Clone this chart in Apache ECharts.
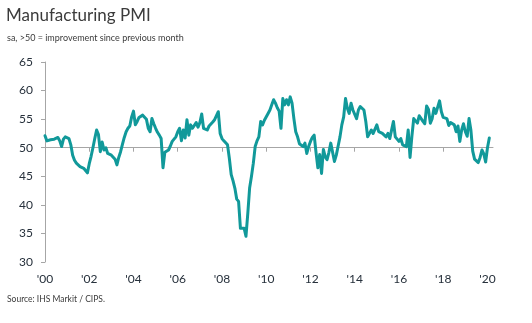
<!DOCTYPE html>
<html>
<head>
<meta charset="utf-8">
<script src="https://cdn.jsdelivr.net/npm/echarts@6/dist/echarts.min.js"></script>
<style>
html,body{margin:0;padding:0;background:#fff;}
#chart{width:532px;height:323px;}
</style>
</head>
<body>
<div id="chart"></div>
<script>
// ---- data (monthly, Jan 2000 - Feb 2020) ----
const pmi2000 = [52.1, 51.2, 51.3, 51.4, 51.2, 51.5, 51.4, 51.8, 51.2, 50.2, 51.5, 51.9];
const pmi2001 = [52.2, 51.6, 50.5, 48.7, 47.8, 47.3, 47.5, 46.7, 46.9, 46.4, 46.1, 45.6];
const pmi2002 = [47.2, 48.5, 50.0, 51.6, 53.1, 52.3, 49.3, 51.0, 49.6, 50.0, 49.0, 48.8];
const pmi2003 = [48.7, 48.9, 48.0, 47.0, 48.3, 49.3, 50.6, 51.8, 52.8, 53.4, 53.8, 55.4];
const pmi2004 = [56.4, 54.0, 54.6, 55.3, 55.5, 55.7, 56.0, 55.0, 53.4, 52.8, 55.1, 54.2];
const pmi2005 = [53.4, 52.7, 52.2, 51.6, 46.5, 49.2, 49.3, 49.6, 50.3, 51.1, 51.5, 51.9];
const pmi2006 = [52.8, 53.4, 51.2, 53.1, 51.7, 54.9, 52.2, 54.0, 53.4, 53.6, 54.4, 53.6];
const pmi2007 = [54.4, 55.9, 53.4, 53.6, 53.1, 53.8, 54.1, 54.5, 54.9, 55.1, 56.3, 52.5];
const pmi2008 = [51.6, 51.2, 51.1, 50.5, 48.1, 45.3, 44.2, 42.9, 41.0, 40.6, 35.9, 35.9];
const pmi2009 = [35.9, 34.5, 38.5, 43.0, 45.0, 47.3, 50.2, 51.2, 51.9, 54.6, 54.0, 54.8];
const pmi2010 = [55.1, 56.0, 56.6, 57.5, 58.4, 57.8, 57.0, 56.4, 53.4, 58.6, 57.5, 58.4];
const pmi2011 = [57.5, 58.9, 57.8, 55.1, 52.8, 51.9, 50.7, 50.5, 50.2, 50.8, 49.0, 50.2];
const pmi2012 = [51.1, 51.8, 52.2, 49.2, 46.5, 48.8, 45.5, 49.7, 48.4, 47.9, 49.2, 50.8];
const pmi2013 = [50.6, 47.6, 48.7, 50.3, 51.9, 54.0, 55.4, 58.6, 56.9, 56.0, 57.8, 56.6];
const pmi2014 = [56.3, 55.1, 56.6, 57.2, 56.9, 56.6, 54.6, 51.9, 52.2, 53.1, 52.5, 52.5];
const pmi2015 = [54.0, 52.8, 52.6, 52.5, 52.8, 51.9, 52.5, 51.6, 51.8, 54.6, 51.9, 52.2];
const pmi2016 = [51.1, 51.6, 50.5, 50.8, 50.2, 53.1, 48.3, 52.0, 55.1, 55.0, 54.3, 55.6];
const pmi2017 = [55.9, 54.6, 54.2, 57.3, 56.7, 54.3, 55.1, 56.9, 56.0, 56.3, 58.2, 56.3];
const pmi2018 = [55.3, 55.2, 55.1, 53.9, 54.4, 54.4, 54.0, 52.8, 53.8, 51.1, 53.1, 54.2];
const pmi2019 = [52.8, 52.0, 55.1, 53.1, 49.4, 48.0, 48.0, 47.4, 48.3, 49.6, 48.9, 47.5];
const pmi2020 = [50.0, 51.7];

const tickLabels = ["'00", "'02", "'04", "'06", "'08", "'10", "'12", "'14", "'16", "'18", "'20"];
const yMin = 30, yMax = 65, yStep = 5, refLevel = 50;
const firstYear = 2000, monthsShown = 244; // Jan 2000 .. Apr 2020 axis extent

const pmi = [].concat(pmi2000, pmi2001, pmi2002, pmi2003, pmi2004, pmi2005, pmi2006,
  pmi2007, pmi2008, pmi2009, pmi2010, pmi2011, pmi2012, pmi2013, pmi2014, pmi2015,
  pmi2016, pmi2017, pmi2018, pmi2019, pmi2020);

const months = [];
for (let k = 0; k < monthsShown; k++) {
  const y = firstYear + Math.floor(k / 12), m = (k % 12) + 1;
  months.push(y + '-' + (m < 10 ? '0' + m : m));
}

// ---- layout ----
const gridTop = 62, gridBottom = 61, chartH = 323;
const plotH = chartH - gridTop - gridBottom;
const refOffset = -(refLevel - yMin) / (yMax - yMin) * plotH;

const textColor = '#26303b';
const axisColor = '#a6a6a6';
const font = 'Lato, "Open Sans", sans-serif';
const isTick = (idx) => idx % 24 === 0;

const chart = echarts.init(document.getElementById('chart'), null, {renderer: 'canvas'});
chart.setOption({
  animation: false,
  backgroundColor: '#ffffff',
  textStyle: {fontFamily: font},
  graphic: [
    {type: 'text', left: 6, top: 7, style: {text: 'Manufacturing PMI', fontSize: 17, fontFamily: font, fill: '#3b3b3b'}},
    {type: 'text', left: 7, top: 34, style: {text: 'sa, >50 = improvement since previous month', fontSize: 9, fontFamily: font, fill: '#3b3b3b'}},
    {type: 'text', left: 7, top: 295, style: {text: 'Source: IHS Markit / CIPS.', fontSize: 8.5, fontFamily: font, fill: '#3b3b3b'}}
  ],
  grid: {left: 45, right: 39, top: gridTop, bottom: gridBottom, containLabel: false},
  xAxis: [
    {
      type: 'category', data: months, boundaryGap: false, position: 'bottom',
      axisLine: {show: false}, axisTick: {show: false}, splitLine: {show: false},
      axisLabel: {
        interval: (idx) => isTick(idx), margin: 11, color: textColor, fontSize: 12, fontFamily: font,
        formatter: (val, idx) => tickLabels[idx / 24] || ''
      }
    },
    {
      type: 'category', data: months, boundaryGap: false, position: 'bottom', offset: refOffset,
      axisLine: {show: true, onZero: false, lineStyle: {color: axisColor, width: 1}},
      axisTick: {show: true, interval: (idx) => isTick(idx), length: 4, lineStyle: {color: axisColor}},
      axisLabel: {show: false}, splitLine: {show: false}
    }
  ],
  yAxis: {
    type: 'value', min: yMin, max: yMax, interval: yStep,
    axisLine: {show: true, lineStyle: {color: axisColor, width: 1}},
    axisTick: {show: true, length: 4, lineStyle: {color: axisColor}},
    axisLabel: {color: textColor, fontSize: 12, margin: 12, fontFamily: font},
    splitLine: {show: false}
  },
  series: [{
    type: 'line', data: pmi, xAxisIndex: 0, showSymbol: false, symbol: 'none',
    lineStyle: {color: '#11999a', width: 3, join: 'round', cap: 'round'},
    z: 5
  }]
});
</script>
</body>
</html>
